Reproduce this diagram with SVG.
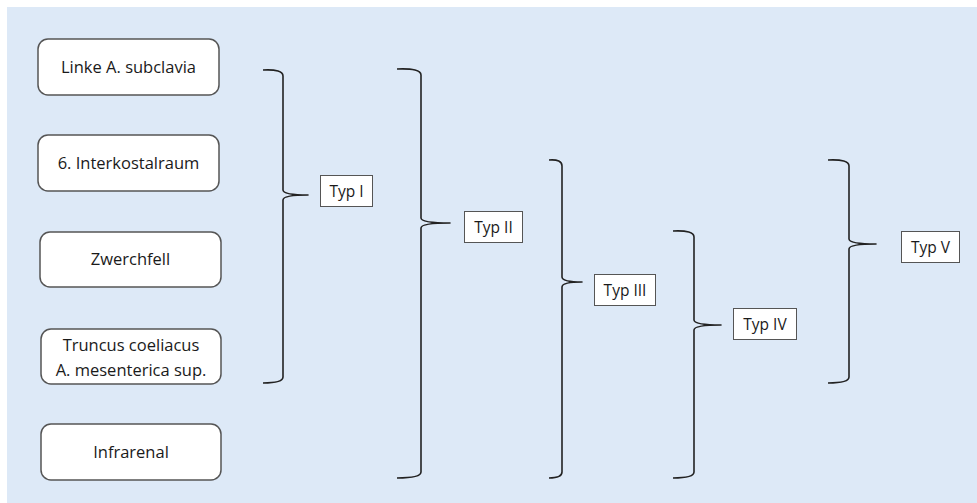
<svg xmlns="http://www.w3.org/2000/svg" width="977" height="503" viewBox="0 0 977 503">
<style>
.bg{fill:#dde9f7}
.node{fill:#ffffff;stroke:#555555;stroke-width:1.5}
.typ{fill:#ffffff;stroke:#555555;stroke-width:1}
.t{font-family:"Open Sans","Liberation Sans",sans-serif;font-size:16.5px;fill:#1a1a1a;text-anchor:middle}
.s{font-size:15.5px}
.brace{fill:none;stroke:#222222;stroke-width:1.6;stroke-linejoin:round}
</style>
<rect x="0" y="0" width="977" height="503" fill="#ffffff"/>
<rect class="bg" x="7" y="7" width="970" height="496"/>
<g id="n1"><rect class="node" x="38" y="39" width="181" height="56" rx="10"/><text class="t" x="128.5" y="73">Linke A. subclavia</text></g>
<g id="n2"><rect class="node" x="38" y="135" width="181" height="56" rx="10"/><text class="t" x="128.5" y="169">6. Interkostalraum</text></g>
<g id="n3"><rect class="node" x="40" y="232" width="181" height="55" rx="10"/><text class="t" x="130.5" y="265">Zwerchfell</text></g>
<g id="n4"><rect class="node" x="41" y="329" width="180" height="55" rx="10"/><text class="t" x="131" y="351">Truncus coeliacus</text><text class="t" x="131" y="376">A. mesenterica sup.</text></g>
<g id="n5"><rect class="node" x="41" y="424" width="180" height="56" rx="10"/><text class="t" x="131" y="458">Infrarenal</text></g>
<g id="connectors">
<path class="brace" d="M263,70 Q283,69 283,76 L283,190 Q283,195 308,195 Q283,195 283,200 L283,377 Q283,383 263,383"/>
<path class="brace" d="M397,69 Q421,68 421,75 L421,218 Q421,223 450,223 Q421,223 421,228 L421,472 Q421,478 397,478"/>
<path class="brace" d="M549,160 Q562,159 562,166 L562,277 Q562,282 582,282 Q562,282 562,287 L562,472 Q562,478 549,478"/>
<path class="brace" d="M673,231 Q694,230 694,237 L694,320 Q694,325 721,325 Q694,325 694,330 L694,472 Q694,478 673,478"/>
<path class="brace" d="M828,160 Q849,159 849,166 L849,239 Q849,244 876,244 Q849,244 849,249 L849,377 Q849,383 828,383"/>
</g>
<g id="typ1"><rect class="typ" x="320.5" y="175.5" width="52" height="31"/><text class="t s" x="346.5" y="197">Typ I</text></g>
<g id="typ2"><rect class="typ" x="464.5" y="211.5" width="58" height="31"/><text class="t s" x="493.5" y="233">Typ II</text></g>
<g id="typ3"><rect class="typ" x="594.5" y="274.5" width="61" height="31"/><text class="t s" x="625" y="296">Typ III</text></g>
<g id="typ4"><rect class="typ" x="733.5" y="308.5" width="63" height="31"/><text class="t s" x="765" y="330">Typ IV</text></g>
<g id="typ5"><rect class="typ" x="901.5" y="231.5" width="58" height="31"/><text class="t s" x="930.5" y="253">Typ V</text></g>
</svg>
